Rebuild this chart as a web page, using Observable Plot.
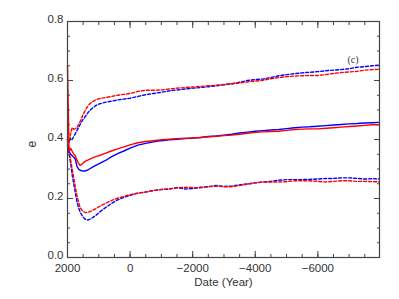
<!DOCTYPE html>
<html>
<head>
<meta charset="utf-8">
<script src="https://cdn.jsdelivr.net/npm/d3@7"></script>
<script src="https://cdn.jsdelivr.net/npm/@observablehq/plot@0.6"></script>
<style>
  html, body { margin: 0; padding: 0; background: #fff; }
  #chart svg { display: block; }
</style>
</head>
<body>
<div id="chart"></div>
<script>
const years = [2000, 1950, 1900, 1850, 1800, 1750, 1700, 1650, 1600, 1550, 1500, 1450, 1400, 1350, 1300, 1200, 1100, 1000, 800, 600, 400, 200, 0,
  -250, -500, -750, -1000, -1250, -1500, -1750, -2000, -2250, -2500, -2750, -3000, -3250, -3500, -3750, -4000, -4250, -4500, -4750, -5000,
  -5250, -5500, -5750, -6000, -6250, -6500, -6750, -7000, -7250, -7500, -7750, -7950];

const redMid = [0.65, 0.36, 0.37, 0.36, 0.35, 0.345, 0.33, 0.32, 0.312, 0.315, 0.32, 0.325, 0.328, 0.33, 0.333, 0.338, 0.342, 0.345, 0.353, 0.361, 0.368, 0.375, 0.382,
  0.389, 0.393, 0.396, 0.399, 0.401, 0.403, 0.404, 0.405, 0.407, 0.409, 0.411, 0.413, 0.415, 0.418, 0.421, 0.424, 0.426, 0.427, 0.428, 0.431,
  0.434, 0.435, 0.436, 0.436, 0.438, 0.44, 0.442, 0.444, 0.446, 0.448, 0.45, 0.45];

const blueMid = [0.38, 0.36, 0.35, 0.345, 0.34, 0.333, 0.31, 0.30, 0.296, 0.294, 0.293, 0.293, 0.295, 0.297, 0.300, 0.306, 0.312, 0.317, 0.328, 0.341, 0.352, 0.361, 0.371,
  0.381, 0.387, 0.392, 0.396, 0.399, 0.401, 0.403, 0.405, 0.407, 0.41, 0.412, 0.415, 0.418, 0.422, 0.425, 0.428, 0.43, 0.432, 0.434, 0.437,
  0.44, 0.442, 0.443, 0.445, 0.447, 0.449, 0.451, 0.453, 0.454, 0.456, 0.457, 0.458];

const redUpper = [0.40, 0.39, 0.42, 0.44, 0.435, 0.437, 0.44, 0.45, 0.46, 0.472, 0.485, 0.495, 0.505, 0.513, 0.52, 0.528, 0.534, 0.538, 0.542, 0.546, 0.55, 0.553, 0.556,
  0.563, 0.567, 0.567, 0.568, 0.571, 0.574, 0.576, 0.578, 0.58, 0.582, 0.584, 0.587, 0.589, 0.592, 0.595, 0.598, 0.601, 0.606, 0.61, 0.613,
  0.615, 0.616, 0.617, 0.617, 0.62, 0.624, 0.627, 0.629, 0.631, 0.635, 0.637, 0.638];

const blueUpper = [0.40, 0.39, 0.405, 0.40, 0.41, 0.42, 0.43, 0.44, 0.45, 0.46, 0.468, 0.475, 0.482, 0.49, 0.497, 0.507, 0.515, 0.52, 0.526, 0.53, 0.534, 0.537, 0.54,
  0.546, 0.552, 0.556, 0.56, 0.565, 0.568, 0.571, 0.574, 0.576, 0.579, 0.582, 0.585, 0.589, 0.594, 0.6, 0.603, 0.605, 0.61, 0.616, 0.62,
  0.623, 0.626, 0.628, 0.63, 0.633, 0.635, 0.637, 0.64, 0.645, 0.647, 0.65, 0.652];

const redLower = [0.40, 0.36, 0.33, 0.30, 0.27, 0.24, 0.21, 0.19, 0.17, 0.162, 0.157, 0.153, 0.152, 0.153, 0.155, 0.16, 0.165, 0.172, 0.183, 0.193, 0.201, 0.207, 0.213,
  0.218, 0.222, 0.227, 0.231, 0.233, 0.236, 0.238, 0.237, 0.236, 0.24, 0.242, 0.24, 0.24, 0.244, 0.248, 0.253, 0.256, 0.256, 0.256, 0.257,
  0.26, 0.26, 0.26, 0.258, 0.256, 0.258, 0.26, 0.26, 0.258, 0.258, 0.257, 0.257];

const blueLower = [0.40, 0.35, 0.32, 0.28, 0.25, 0.22, 0.19, 0.17, 0.155, 0.145, 0.137, 0.131, 0.128, 0.127, 0.129, 0.135, 0.142, 0.152, 0.168, 0.183, 0.195, 0.204, 0.211,
  0.218, 0.222, 0.227, 0.23, 0.232, 0.237, 0.232, 0.234, 0.238, 0.24, 0.244, 0.241, 0.242, 0.246, 0.25, 0.253, 0.256, 0.258, 0.262, 0.264,
  0.264, 0.264, 0.265, 0.266, 0.268, 0.268, 0.27, 0.27, 0.268, 0.266, 0.267, 0.266];

const xMajor = [2000, 0, -2000, -4000, -6000];
const xMinor = d3.range(2000, -7951, -500);
const yMajor = [0, 0.2, 0.4, 0.6, 0.8];
const yMinor = d3.range(0, 0.801, 0.05);

const seriesDefs = [
  {name: "blueUpper", values: blueUpper, color: "blue", dash: "3,2"},
  {name: "redUpper", values: redUpper, color: "red", dash: "3,2"},
  {name: "blueLower", values: blueLower, color: "blue", dash: "3,2"},
  {name: "redLower", values: redLower, color: "red", dash: "3,2"},
  {name: "blueMid", values: blueMid, color: "blue", dash: null},
  {name: "redMid", values: redMid, color: "red", dash: null}
];

const rows = s => years.map((yr, i) => ({year: yr, e: s.values[i]}));

const axisColor = "#444";
const font = "Liberation Sans, Arial, sans-serif";

const lineMarks = seriesDefs.map(s => Plot.line(rows(s), {
  x: "year", y: "e", stroke: s.color, strokeWidth: 1.4,
  strokeDasharray: s.dash ?? undefined
}));

const chart = Plot.plot({
  width: 399,
  height: 299,
  marginLeft: 67,
  marginRight: 20,
  marginTop: 21,
  marginBottom: 42,
  style: {fontFamily: font, fontSize: "11.5px", color: axisColor, background: "#fff"},
  x: {domain: [2000, -7970], label: null},
  y: {domain: [0, 0.8], label: null},
  marks: [
    ...lineMarks,
    Plot.frame({stroke: axisColor, strokeWidth: 1.2}),
    // tick marks, pointing inward, on all four sides
    Plot.axisX(xMinor, {anchor: "bottom", tickSize: -3, tickFormat: () => "", stroke: axisColor}),
    Plot.axisX(xMajor, {anchor: "bottom", tickSize: -6, tickFormat: () => "", stroke: axisColor}),
    Plot.axisX(xMinor, {anchor: "top", tickSize: -3, tickFormat: () => "", stroke: axisColor}),
    Plot.axisX(xMajor, {anchor: "top", tickSize: -6, tickFormat: () => "", stroke: axisColor}),
    Plot.axisY(yMinor, {anchor: "left", tickSize: -3, tickFormat: () => "", stroke: axisColor}),
    Plot.axisY(yMajor, {anchor: "left", tickSize: -6, tickFormat: () => "", stroke: axisColor}),
    Plot.axisY(yMinor, {anchor: "right", tickSize: -3, tickFormat: () => "", stroke: axisColor}),
    Plot.axisY(yMajor, {anchor: "right", tickSize: -6, tickFormat: () => "", stroke: axisColor}),
    // tick labels
    Plot.axisX(xMajor, {anchor: "bottom", tickSize: 0, tickPadding: 6, tickFormat: d3.format("d"), fill: "#333", label: null}),
    Plot.axisY(yMajor, {anchor: "left", tickSize: 0, tickPadding: 4, dy: -2, tickFormat: d3.format(".1f"), fill: "#333", label: null}),
    // axis titles and panel label
    Plot.text(["Date (Year)"], {frameAnchor: "bottom", dy: 28.5, fill: "#333", fontSize: 11.5}),
    Plot.text(["e"], {frameAnchor: "left", dx: -35, dy: 8, rotate: -90, fill: "#333", fontSize: 12}),
    Plot.text(["(c)"], {frameAnchor: "top-right", dx: -21, dy: 34, fill: "#333", fontSize: 10, fontFamily: "Liberation Serif, serif"})
  ]
});

document.getElementById("chart").appendChild(chart);
</script>
</body>
</html>
